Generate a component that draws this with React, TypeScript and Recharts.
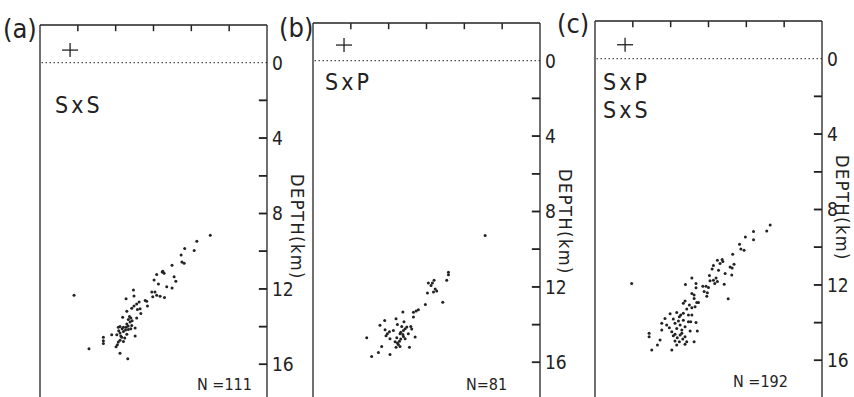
import React from "react";
import { ScatterChart, Scatter, XAxis, YAxis, ReferenceLine } from "recharts";

// distance along section (km) and depth (km)
const sxsEvents: [number, number][] = [
  [9.0, 9.15], [8.29, 9.47], [8.15, 9.96], [7.65, 9.86], [7.46, 10.2], [7.5, 10.57], [7.62, 10.64],
  [6.98, 10.74], [6.46, 11.1], [6.56, 11.17], [6.17, 11.24], [7.09, 11.35], [6.03, 11.53], [7.18, 11.6],
  [6.26, 11.74], [6.7, 11.88], [6.98, 11.95], [5.91, 12.16], [6.08, 12.16], [6.17, 12.34], [5.96, 12.41],
  [6.35, 12.39], [6.58, 12.45], [1.8, 12.34], [4.94, 12.06], [4.97, 12.38], [5.56, 12.62], [5.64, 12.66],
  [4.55, 12.52], [5.24, 12.7], [5.11, 12.8], [5.68, 12.91], [4.97, 12.91], [4.85, 13.02], [5.15, 13.09],
  [5.29, 13.05], [4.59, 13.19], [5.33, 13.3], [4.37, 13.51], [5.11, 13.55], [4.67, 13.62], [4.8, 13.55],
  [4.76, 13.76], [4.85, 13.94], [4.59, 13.86], [4.55, 14.04], [4.41, 14.04], [4.23, 13.99], [4.14, 14.04],
  [4.8, 14.11], [5.03, 14.08], [4.41, 14.26], [4.23, 14.34], [4.06, 14.43], [3.79, 14.43], [4.59, 14.4],
  [4.67, 14.16], [5.03, 14.5], [3.35, 14.57], [3.35, 14.75], [3.35, 14.89], [4.32, 14.57], [4.23, 14.72],
  [4.14, 14.82], [4.09, 14.96], [4.41, 14.79], [2.59, 15.18], [4.23, 15.41], [4.64, 15.71], [4.02, 15.07],
  [4.73, 13.47], [4.87, 13.69], [4.66, 13.97], [4.52, 14.18], [4.34, 14.11], [4.16, 14.22], [4.27, 14.5],
  [4.48, 14.61], [6.49, 11.06],
];

const sxpEvents: [number, number][] = [
  [9.1, 9.27], [7.16, 11.22], [7.16, 11.35], [7.07, 11.65], [6.4, 11.65], [6.31, 11.79], [6.1, 11.79],
  [6.24, 11.93], [6.46, 12.11], [6.54, 12.22], [6.37, 12.27], [6.05, 12.32], [6.86, 12.82], [5.94, 12.93],
  [5.57, 13.21], [5.45, 13.28], [5.31, 13.35], [4.75, 13.33], [5.31, 13.6], [4.39, 13.69], [3.79, 13.78],
  [4.81, 13.85], [5.17, 14.1], [3.54, 14.03], [4.46, 13.99], [4.96, 14.13], [3.81, 14.27], [4.04, 14.38],
  [4.78, 14.31], [4.87, 14.22], [4.25, 14.31], [4.6, 14.48], [4.75, 14.52], [5.04, 14.48], [3.86, 14.59],
  [4.07, 14.75], [4.43, 14.7], [4.64, 14.77], [4.87, 14.75], [5.4, 14.66], [2.84, 14.7], [4.34, 14.91],
  [4.51, 15.05], [4.39, 15.2], [4.6, 15.16], [5.1, 15.2], [3.63, 15.16], [3.46, 15.48], [4.07, 15.59],
  [3.1, 15.69], [4.69, 14.1], [4.57, 14.88], [4.46, 14.98], [4.64, 14.4], [4.78, 14.63], [5.22, 14.24],
  [3.93, 14.48],
];

const combinedEvents: [number, number][] = [
  [9.26, 8.82], [9.08, 9.14], [8.38, 9.17], [8.38, 9.6], [7.95, 9.46], [7.64, 9.84], [7.71, 10.09],
  [7.88, 10.16], [7.28, 10.37], [6.72, 10.65], [6.76, 10.76], [6.47, 10.69], [7.35, 10.9], [7.14, 11.05],
  [7.25, 11.11], [6.26, 10.97], [6.19, 11.15], [6.53, 11.22], [6.88, 11.39], [7.23, 11.48], [6.05, 11.5],
  [6.4, 11.64], [6.26, 11.75], [6.47, 11.82], [6.08, 11.78], [6.33, 11.92], [6.83, 11.96], [5.87, 12.07],
  [5.7, 12.07], [6.0, 12.14], [5.77, 12.35], [5.94, 12.42], [7.04, 12.74], [5.91, 12.6], [6.61, 10.87],
  [1.94, 11.92], [5.12, 11.63], [5.34, 11.92], [4.78, 11.98], [5.34, 12.15], [5.12, 12.45], [5.24, 12.54],
  [5.47, 12.93], [4.76, 12.86], [4.67, 12.98], [4.99, 13.07], [5.12, 13.21], [4.85, 13.28], [5.29, 13.16],
  [4.32, 13.46], [4.67, 13.51], [4.94, 13.6], [3.97, 13.53], [4.46, 13.69], [3.7, 13.78], [4.14, 13.81],
  [4.67, 13.87], [5.06, 13.95], [5.34, 13.99], [3.53, 14.04], [4.23, 14.04], [4.5, 14.13], [4.76, 14.22],
  [3.93, 14.27], [4.32, 14.31], [4.06, 14.48], [4.59, 14.39], [5.03, 14.45], [5.41, 14.45], [3.53, 14.39],
  [4.23, 14.62], [4.5, 14.66], [4.76, 14.75], [2.86, 14.57], [3.44, 14.92], [4.23, 14.98], [4.46, 15.01],
  [4.85, 15.01], [5.24, 15.01], [4.32, 15.19], [3.3, 15.19], [3.0, 15.45], [4.06, 15.45], [4.76, 15.15],
  [4.53, 13.6], [4.41, 13.92], [4.59, 14.57], [4.35, 14.8], [4.64, 14.87], [4.14, 14.7], [3.79, 14.13],
  [4.94, 13.95], [5.12, 13.6], [5.38, 12.93], [5.24, 12.72], [2.86, 14.75],
];

const stationMarks: [number, number][] = [[1.59, -0.67], [1.64, -0.83], [1.59, -0.74]];

const depthTicks = [0, 2, 4, 6, 8, 10, 12, 14, 16];
const distanceTicks = [0, 2, 4, 6, 8, 10, 12];
const panelLetters = ["(a)", "(b)", "(c)"];
const phaseLabels = [["SxS"], ["SxP"], ["SxP", "SxS"]];
const eventCounts = ["N =111", "N=81", "N =192"];

const INK = "#222";
const FONT = '"DejaVu Sans Condensed", "DejaVu Sans", sans-serif';

const X_MAX = 12;
const Y_MIN = -2;
const Y_MAX = 18;
const PLOT_LEFT = 2;
const PLOT_TOP = 3;
const PLOT_W = 227;
const PLOT_H = 377;
const PLOT_RIGHT = PLOT_LEFT + PLOT_W;

const Dot = (p: any) => <circle cx={p.cx} cy={p.cy} r={1.5} fill={INK} />;
const Cross = (p: any) => (
  <g stroke={INK} strokeWidth={1.3}>
    <line x1={p.cx - 8} x2={p.cx + 8} y1={p.cy} y2={p.cy} />
    <line x1={p.cx} x2={p.cx} y1={p.cy - 7} y2={p.cy + 7} />
  </g>
);
// inward tick marks, placed at the tick values on the frame
const RightTick = (p: any) => (
  <g stroke={INK} strokeWidth={1.5}>
    <line x1={p.cx - 8} x2={p.cx} y1={p.cy} y2={p.cy} />
  </g>
);
const TopTick = (p: any) => (
  <g stroke={INK} strokeWidth={1.5}>
    <line x1={p.cx} x2={p.cx} y1={p.cy} y2={p.cy + 6} />
  </g>
);

const DepthLabel = (p: any) => {
  const v = p.payload.value;
  return (
    <g>
      {v !== 0 && (
        <g stroke={INK} strokeWidth={1.5}>
          <line x1={PLOT_RIGHT - 8} x2={PLOT_RIGHT} y1={p.y} y2={p.y} />
        </g>
      )}
      {v % 4 === 0 && (
        <text x={PLOT_RIGHT + 5} y={p.y} dy="0.36em" fontSize={19} fill={INK} fontFamily={FONT}>
          {v}
        </text>
      )}
    </g>
  );
};

function Panel({ left, top, events, station }: { left: number; top: number; events: [number, number][]; station: [number, number] }) {
  const points = events.map(([x, depth]) => ({ x, depth }));
  const mark = [{ x: station[0], depth: station[1] }];
  const rightTicks = depthTicks.slice(1).map((d) => ({ x: X_MAX - 0.01, depth: d }));
  const topTicks = distanceTicks.slice(1, -1).map((x) => ({ x, depth: Y_MIN + 0.01 }));
  return (
    <div style={{ position: "absolute", left: left - PLOT_LEFT, top: top - PLOT_TOP }}>
      <ScatterChart width={PLOT_RIGHT + 30} height={PLOT_TOP + PLOT_H} margin={{ top: 2, right: 0, bottom: 0, left: PLOT_LEFT }}>
        <XAxis
          type="number"
          dataKey="x"
          domain={[0, X_MAX]}
          ticks={distanceTicks}
          interval={0}
          orientation="top"
          height={1}
          tickLine={false}
          tick={false}
          stroke={INK}
          strokeWidth={1.3}
        />
        <YAxis
          type="number"
          dataKey="depth"
          domain={[Y_MIN, Y_MAX]}
          reversed
          ticks={depthTicks}
          interval={0}
          orientation="right"
          width={30}
          tickLine={false}
          tick={DepthLabel}
          stroke={INK}
          strokeWidth={1.3}
        />
        <ReferenceLine x={0} stroke={INK} strokeWidth={1.3} />
        <ReferenceLine y={0} stroke={INK} strokeDasharray="1.5 2.5" strokeWidth={1} />
        <Scatter data={points} shape={Dot} isAnimationActive={false} />
        <Scatter data={mark} shape={Cross} isAnimationActive={false} />
        <Scatter data={rightTicks} shape={RightTick} isAnimationActive={false} />
        <Scatter data={topTicks} shape={TopTick} isAnimationActive={false} />
      </ScatterChart>
    </div>
  );
}

export default function App() {
  const lefts = [40, 313, 595];
  const tops = [25, 23, 21];
  const sets = [sxsEvents, sxpEvents, combinedEvents];
  const letterPos = [[3, 38], [279, 37], [557, 33]];
  const phasePos = [[55, 113], [325, 90], [603, 90]];
  const countPos = [[197, 390], [466, 390], [733, 387]];
  const depthPos = [[291, 227], [559, 222], [836, 208]];
  return (
    <div style={{ position: "absolute", left: 0, top: 0, width: 854, height: 397, overflow: "hidden", background: "#fff" }}>
      {sets.map((ev, i) => (
        <Panel key={i} left={lefts[i]} top={tops[i]} events={ev} station={stationMarks[i]} />
      ))}
      <svg width={854} height={397} style={{ position: "absolute", left: 0, top: 0, pointerEvents: "none" }} fontFamily={FONT} fill={INK}>
        {panelLetters.map((t, i) => (
          <text key={t} x={letterPos[i][0]} y={letterPos[i][1]} fontSize={27}>{t}</text>
        ))}
        {phaseLabels.map((lines, i) =>
          lines.map((t, j) => (
            <text key={i + t} x={phasePos[i][0]} y={phasePos[i][1] + j * 28} fontSize={23} letterSpacing={3}>{t}</text>
          ))
        )}
        {eventCounts.map((t, i) => (
          <text key={t} x={countPos[i][0]} y={countPos[i][1]} fontSize={16}>{t}</text>
        ))}
        {depthPos.map(([x, y], i) => (
          <text key={i} x={x} y={y} fontSize={18} textAnchor="middle" letterSpacing={1.5} transform={`rotate(90 ${x} ${y})`}>DEPTH(km)</text>
        ))}
      </svg>
    </div>
  );
}
